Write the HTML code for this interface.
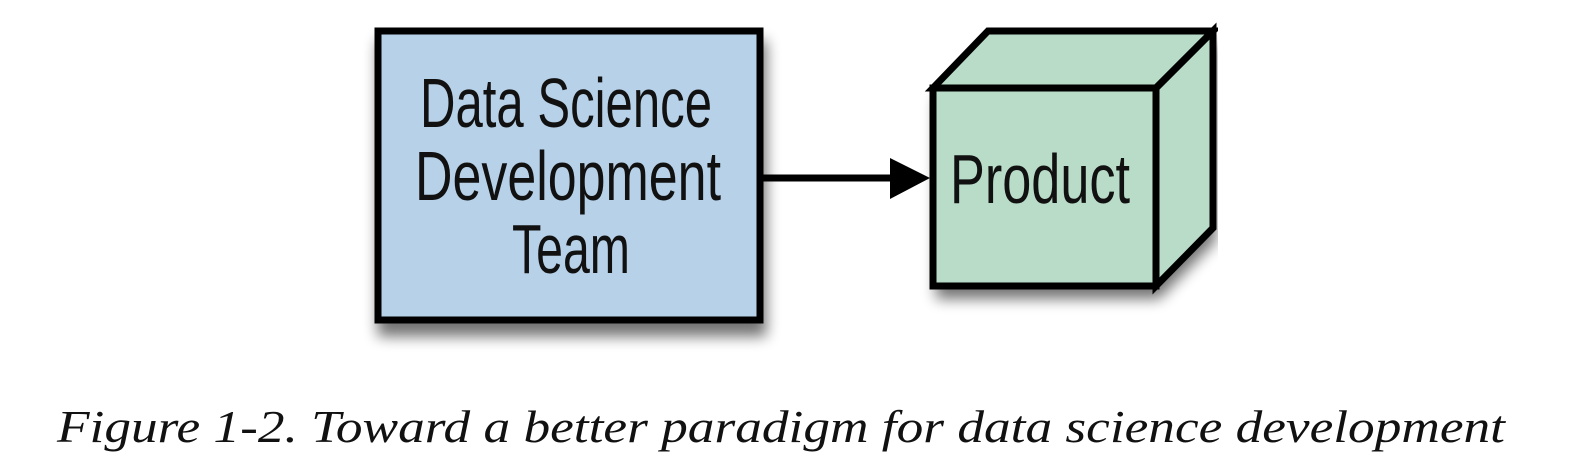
<!DOCTYPE html>
<html><head><meta charset="utf-8"><style>
html,body{margin:0;padding:0;background:#fff;}
svg{display:block;}
</style></head><body>
<svg width="1572" height="472" viewBox="0 0 1572 472" xmlns="http://www.w3.org/2000/svg">
<defs>
<filter id="sh" x="-10%" y="-10%" width="130%" height="140%">
<feGaussianBlur in="SourceAlpha" stdDeviation="7"/>
<feOffset dx="3" dy="13" result="b"/>
<feComponentTransfer><feFuncA type="linear" slope="0.55"/></feComponentTransfer>
<feMerge><feMergeNode/><feMergeNode in="SourceGraphic"/></feMerge>
</filter>
<clipPath id="cl"><rect x="0" y="0" width="1218" height="472"/></clipPath>
</defs>
<rect x="378" y="31" width="382" height="289" fill="#b7d1e8" stroke="#000" stroke-width="7" filter="url(#sh)"/>
<g font-family="'Liberation Sans Narrow','Liberation Sans',sans-serif" font-size="70" fill="#111" text-anchor="middle">
<text x="566" y="127" textLength="292" lengthAdjust="spacingAndGlyphs">Data Science</text>
<text x="568" y="200" textLength="306" lengthAdjust="spacingAndGlyphs">Development</text>
<text x="571" y="273" textLength="118" lengthAdjust="spacingAndGlyphs">Team</text>
</g>
<line x1="763" y1="178" x2="895" y2="178" stroke="#000" stroke-width="7"/>
<polygon points="890,158 930,178 890,199" fill="#000"/>
<g clip-path="url(#cl)">
<g filter="url(#sh)">
<polygon points="933,88 988,31 1213,31 1213,228 1156,286 933,286" fill="#b9dcc9"/>
</g>
<g fill="none" stroke="#000" stroke-width="7" stroke-linejoin="miter">
<polygon points="933,88 988,31 1213,31 1156,88"/>
<polygon points="1156,88 1213,31 1213,228 1156,286"/>
<rect x="933" y="88" width="223" height="198"/>
</g>
</g>
<text x="1040" y="203" font-family="'Liberation Sans Narrow','Liberation Sans',sans-serif" font-size="70" fill="#111" text-anchor="middle" textLength="180" lengthAdjust="spacingAndGlyphs">Product</text>
<text x="781" y="442" font-family="'Liberation Serif',serif" font-style="italic" font-size="46" fill="#111" text-anchor="middle" textLength="1448" lengthAdjust="spacingAndGlyphs">Figure 1-2. Toward a better paradigm for data science development</text>
</svg>
</body></html>
